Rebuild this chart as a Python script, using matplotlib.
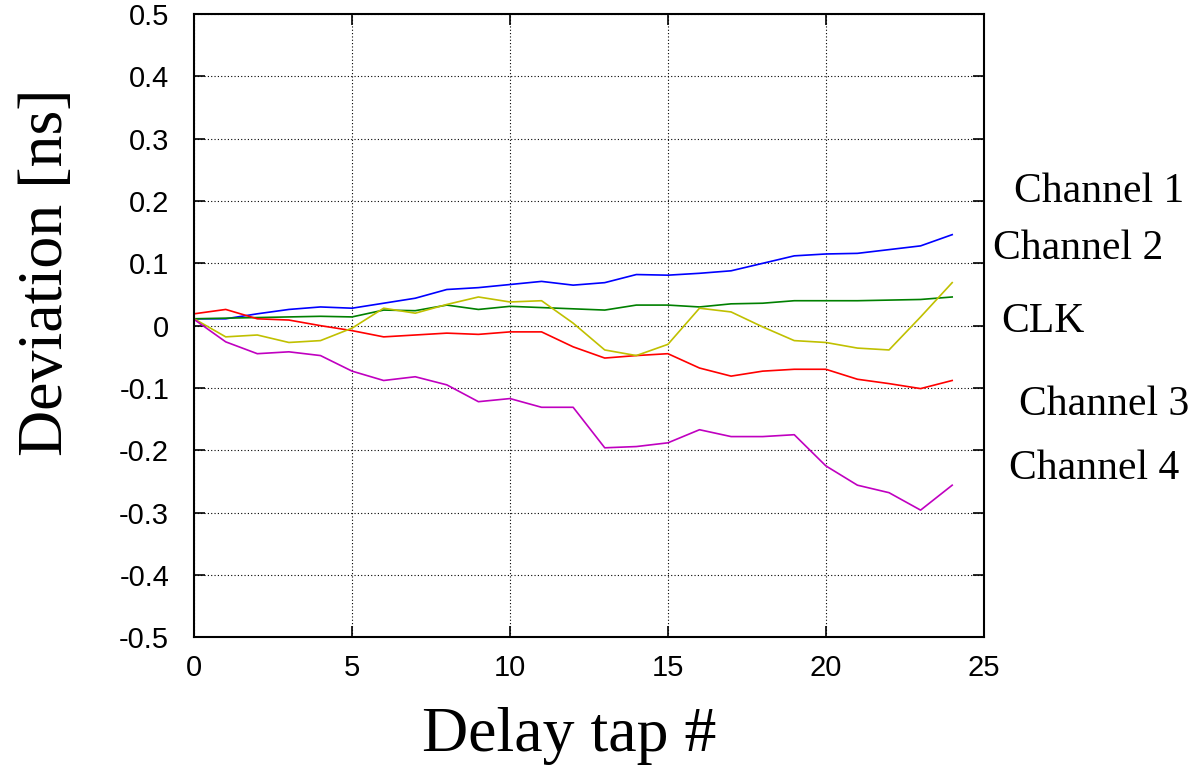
import matplotlib
matplotlib.use("Agg")
import matplotlib.pyplot as plt

# Delay tap index and measured deviation for each signal.
taps = list(range(25))

channel1 = [0.011, 0.011, 0.019, 0.026, 0.030, 0.028, 0.036, 0.044, 0.058, 0.061,
            0.066, 0.071, 0.065, 0.069, 0.082, 0.081, 0.084, 0.088, 0.100, 0.112,
            0.115, 0.116, 0.122, 0.128, 0.146]
channel2 = [0.011, -0.018, -0.015, -0.027, -0.024, -0.004, 0.028, 0.020, 0.034, 0.046,
            0.038, 0.040, 0.004, -0.039, -0.048, -0.030, 0.028, 0.022, -0.002, -0.024,
            -0.027, -0.036, -0.039, 0.014, 0.069]
clk = [0.011, 0.012, 0.013, 0.014, 0.015, 0.014, 0.025, 0.024, 0.033, 0.026,
       0.031, 0.029, 0.027, 0.025, 0.033, 0.033, 0.030, 0.035, 0.036, 0.040,
       0.040, 0.040, 0.041, 0.042, 0.046]
channel3 = [0.019, 0.026, 0.011, 0.009, 0.000, -0.008, -0.018, -0.015, -0.012, -0.014,
            -0.010, -0.010, -0.034, -0.052, -0.048, -0.045, -0.068, -0.081, -0.073, -0.070,
            -0.070, -0.086, -0.093, -0.101, -0.088]
channel4 = [0.010, -0.026, -0.045, -0.042, -0.048, -0.073, -0.088, -0.082, -0.095, -0.122,
            -0.117, -0.131, -0.131, -0.196, -0.194, -0.188, -0.167, -0.178, -0.178, -0.175,
            -0.225, -0.256, -0.268, -0.296, -0.256]

labels = ["Channel 1", "Channel 2", "CLK", "Channel 3", "Channel 4"]
x_ticks = [0, 5, 10, 15, 20, 25]
y_ticks = [-0.5, -0.4, -0.3, -0.2, -0.1, 0, 0.1, 0.2, 0.3, 0.4, 0.5]
y_tick_labels = ["-0.5", "-0.4", "-0.3", "-0.2", "-0.1", "0", "0.1", "0.2", "0.3", "0.4", "0.5"]

fig = plt.figure(figsize=(11.91, 7.80), dpi=100)
ax = fig.add_axes([0.163, 0.183, 0.663, 0.799])

ax.plot(taps, channel1, color="#0000ff", lw=1.2)
ax.plot(taps, clk, color="#008000", lw=1.2)
ax.plot(taps, channel3, color="#ff0000", lw=1.2)
ax.plot(taps, channel2, color="#c0c000", lw=1.2)
ax.plot(taps, channel4, color="#c000c0", lw=1.2)

ax.set_xlim(0, 25)
ax.set_ylim(-0.5, 0.5)
ax.set_xticks(x_ticks)
ax.set_yticks(y_ticks)
ax.set_yticklabels(y_tick_labels)
ax.grid(True, color="black", linestyle=(0, (1, 2)), linewidth=0.8)

ax.tick_params(direction="in", length=8, width=1.2, top=True, right=True,
               labelsize=21)
ax.tick_params(axis="x", pad=12)
ax.tick_params(axis="y", pad=18)
for lab in ax.get_xticklabels() + ax.get_yticklabels():
    lab.set_family("Liberation Sans")
for spine in ax.spines.values():
    spine.set_linewidth(1.5)

ax.set_xlabel("Delay tap #", family="Liberation Serif", fontsize=46)
ax.set_ylabel("Deviation [ns]", family="Liberation Serif", fontsize=46)
ax.xaxis.set_label_coords(0.475, -0.112)
ax.yaxis.set_label_coords(-0.15, 0.586)

# Labels to the right of the plot.
label_x = [25.96, 25.3, 25.55, 26.1, 25.8]
label_y = [0.215, 0.124, 0.006, -0.127, -0.229]
for name, lx, ly in zip(labels, label_x, label_y):
    ax.text(lx, ly, name, family="Liberation Serif", fontsize=30,
            va="center", ha="left", clip_on=False)

fig.savefig("out.png", dpi=100)
